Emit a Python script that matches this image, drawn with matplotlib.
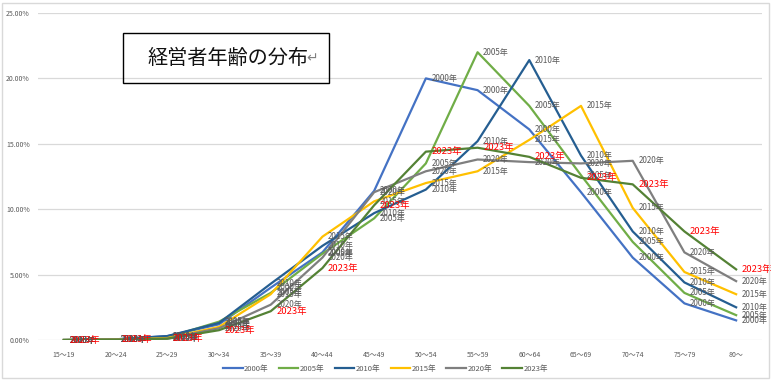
import matplotlib.pyplot as plt
from matplotlib.patches import Rectangle
from matplotlib.ticker import FuncFormatter

plt.rcParams['font.family'] = ['Noto Sans CJK JP', 'DejaVu Sans']

# 年齢階級
age_groups = ['15～19', '20～24', '25～29', '30～34', '35～39', '40～44', '45～49',
              '50～54', '55～59', '60～64', '65～69', '70～74', '75～79', '80～']

# 経営者年齢の構成比 (%)
share_2000 = [0.0, 0.05, 0.3, 1.2, 4.0, 6.7, 11.4, 20.0, 19.1, 16.1, 11.3, 6.3, 2.8, 1.5]
share_2005 = [0.0, 0.05, 0.2, 1.4, 3.6, 6.6, 9.3, 13.5, 22.0, 17.9, 12.6, 7.5, 3.6, 1.9]
share_2010 = [0.0, 0.05, 0.3, 1.3, 4.3, 7.2, 9.7, 11.5, 15.2, 21.4, 14.1, 8.3, 4.4, 2.5]
share_2015 = [0.0, 0.03, 0.15, 1.0, 3.5, 7.9, 10.6, 12.0, 12.9, 15.3, 17.9, 10.1, 5.2, 3.5]
share_2020 = [0.0, 0.02, 0.1, 0.9, 2.7, 6.3, 11.3, 12.9, 13.8, 13.6, 13.5, 13.7, 6.7, 4.5]
share_2023 = [0.0, 0.02, 0.1, 0.75, 2.2, 5.5, 10.3, 14.4, 14.7, 14.0, 12.4, 11.9, 8.3, 5.4]

years = ['2000年', '2005年', '2010年', '2015年', '2020年', '2023年']
series = [share_2000, share_2005, share_2010, share_2015, share_2020, share_2023]
colors = ['#4472C4', '#70AD47', '#255E91', '#FFC000', '#7F7F7F', '#548235']

fig = plt.figure(figsize=(7.71, 3.8), dpi=100)
ax = fig.add_axes([38 / 771, 1 - 340 / 380, (762 - 38) / 771, (340 - 13) / 380])

x = list(range(len(age_groups)))
for year, vals, col in zip(years, series, colors):
    ax.plot(x, vals, color=col, lw=1.6, label=year, zorder=3)
    red = year == '2023年'
    for xi, v in zip(x, vals):
        ax.annotate(year, (xi, v), xytext=(4, 0), textcoords='offset points',
                    ha='left', va='center',
                    fontsize=6.8 if red else 5.8,
                    color='#FF0000' if red else '#595959', zorder=5)

ax.set_xlim(-0.5, len(age_groups) - 0.5)
ax.set_ylim(0, 25)
ax.set_yticks([0, 5, 10, 15, 20, 25])
ax.yaxis.set_major_formatter(FuncFormatter(lambda v, p: f'{v:.2f}%'))
ax.set_xticks(x)
ax.set_xticklabels(age_groups)
ax.tick_params(axis='both', length=0, labelsize=5, labelcolor='#595959')
ax.tick_params(axis='x', pad=8)
ax.tick_params(axis='y', pad=6)
ax.grid(axis='y', color='#D9D9D9', lw=0.9)
ax.set_axisbelow(True)
for s in ax.spines.values():
    s.set_visible(False)

ax.legend(loc='center', bbox_to_anchor=(0.5, 11 / 380), bbox_transform=fig.transFigure,
          ncol=6, frameon=False, fontsize=5.5, labelcolor='#595959',
          handlelength=2.6, handletextpad=0.2, columnspacing=1.3)

# タイトルの枠
fig.patches.append(Rectangle((123 / 771, 1 - 83 / 380), 206 / 771, 50 / 380,
                             transform=fig.transFigure, fill=False,
                             edgecolor='black', lw=1.0))
fig.text(147 / 771, 1 - 58 / 380, '経営者年齢の分布', fontsize=14.5,
         ha='left', va='center', color='#111111')
fig.text(306 / 771, 1 - 58 / 380, '↵', fontsize=10, ha='left', va='center',
         color='#808080', family=['DejaVu Sans'])

# グラフエリアの枠
fig.patches.append(Rectangle((2 / 771, 2 / 380), 767 / 771, 375 / 380,
                             transform=fig.transFigure, fill=False,
                             edgecolor='#D9D9D9', lw=1.0))

fig.savefig('out.png', dpi=100)
